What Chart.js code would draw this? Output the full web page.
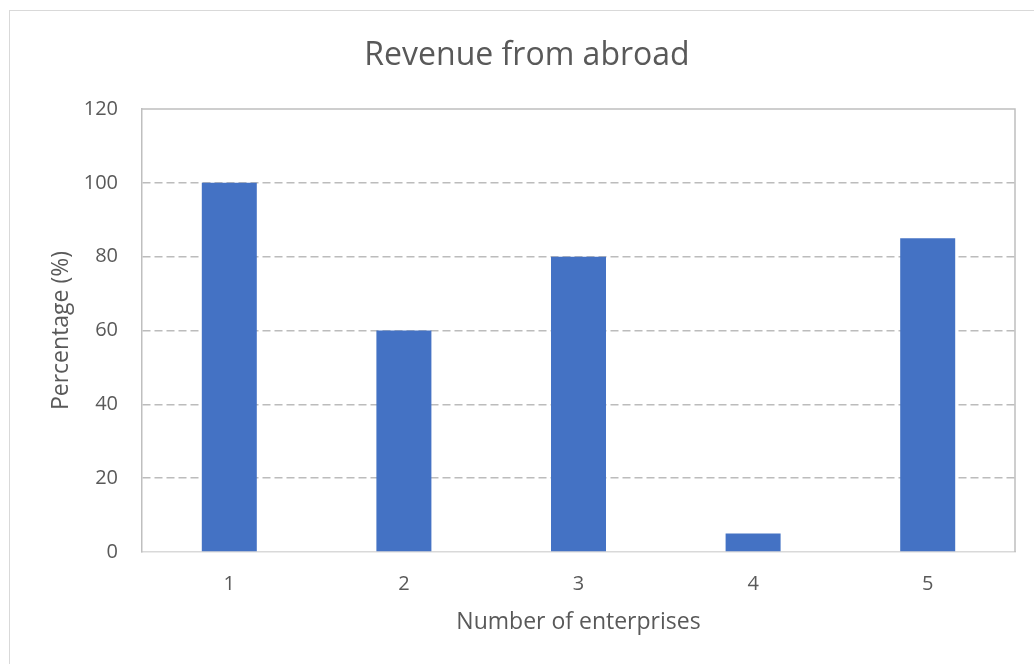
<!DOCTYPE html>
<html>
<head>
<meta charset="utf-8">
<style>
  html, body { margin: 0; padding: 0; background: #ffffff; }
  #wrap { position: relative; width: 1034px; height: 664px; }
  #frame { position: absolute; left: 9px; top: 10px; width: 1040px; height: 670px;
           border: 1px solid #d9d9d9; box-sizing: border-box; }
  canvas { position: absolute; left: 0; top: 0; }
</style>
<script src="https://cdn.jsdelivr.net/npm/chart.js@4/dist/chart.umd.min.js"></script>
</head>
<body>
<div id="wrap">
  <div id="frame"></div>
  <canvas id="chart" width="1034" height="664"></canvas>
</div>
<script>
const categories = ['1', '2', '3', '4', '5'];
const revenueAbroad = [100, 60, 80, 5, 85];
const yTicks = [0, 20, 40, 60, 80, 100, 120];

const FONT = "'Open Sans', 'Noto Sans', sans-serif";
const TEXT = '#595959';

// Solid frame along the top and right of the plot area
const plotFrame = {
  id: 'plotFrame',
  afterDraw(chart) {
    const { ctx, chartArea: a } = chart;
    ctx.save();
    ctx.strokeStyle = '#bfbfbf';
    ctx.lineWidth = 1.5;
    ctx.beginPath();
    ctx.moveTo(a.left, a.top);
    ctx.lineTo(a.right, a.top);
    ctx.lineTo(a.right, a.bottom);
    ctx.stroke();
    ctx.restore();
  }
};

new Chart(document.getElementById('chart'), {
  type: 'bar',
  data: {
    labels: categories,
    datasets: [{
      label: 'Revenue from abroad',
      data: revenueAbroad,
      backgroundColor: '#4472c4',
      borderWidth: 0,
      categoryPercentage: 1,
      barPercentage: 0.315
    }]
  },
  options: {
    responsive: false,
    animation: false,
    layout: { padding: { top: 0, left: 39, right: 19, bottom: 0 } },
    plugins: {
      legend: { display: false },
      tooltip: { enabled: false },
      title: {
        display: true,
        text: 'Revenue from abroad',
        color: TEXT,
        font: { family: FONT, size: 32, weight: 'normal', lineHeight: 1.2 },
        padding: { top: 37, bottom: 33.6 }
      }
    },
    scales: {
      x: {
        grid: { display: false, drawTicks: false },
        border: { display: true, color: '#d9d9d9', width: 1.5 },
        ticks: { color: TEXT, font: { family: FONT, size: 20 }, padding: 20 },
        title: {
          display: true,
          text: 'Number of enterprises',
          color: TEXT,
          font: { family: FONT, size: 23, lineHeight: 1.2 },
          padding: { top: 28, bottom: 28 }
        },
        afterFit(scale) { scale.height = 112; }
      },
      y: {
        min: 0,
        max: 120,
        afterBuildTicks(scale) { scale.ticks = yTicks.map(v => ({ value: v })); },
        grid: {
          drawTicks: false,
          lineWidth: 1.5,
          color: ctx => (ctx.tick && (ctx.tick.value === 0 || ctx.tick.value === 120)) ? 'rgba(0,0,0,0)' : '#bcbcbc'
        },
        border: { display: true, color: '#bfbfbf', width: 1.5, dash: [8, 4] },
        ticks: { color: TEXT, font: { family: FONT, size: 20 }, padding: 24 },
        title: {
          display: true,
          text: 'Percentage (%)',
          color: TEXT,
          font: { family: FONT, size: 23, lineHeight: 1.2 },
          padding: { top: 9, bottom: 0 }
        },
        afterFit(scale) { scale.width = 103; }
      }
    }
  },
  plugins: [plotFrame]
});
</script>
</body>
</html>
